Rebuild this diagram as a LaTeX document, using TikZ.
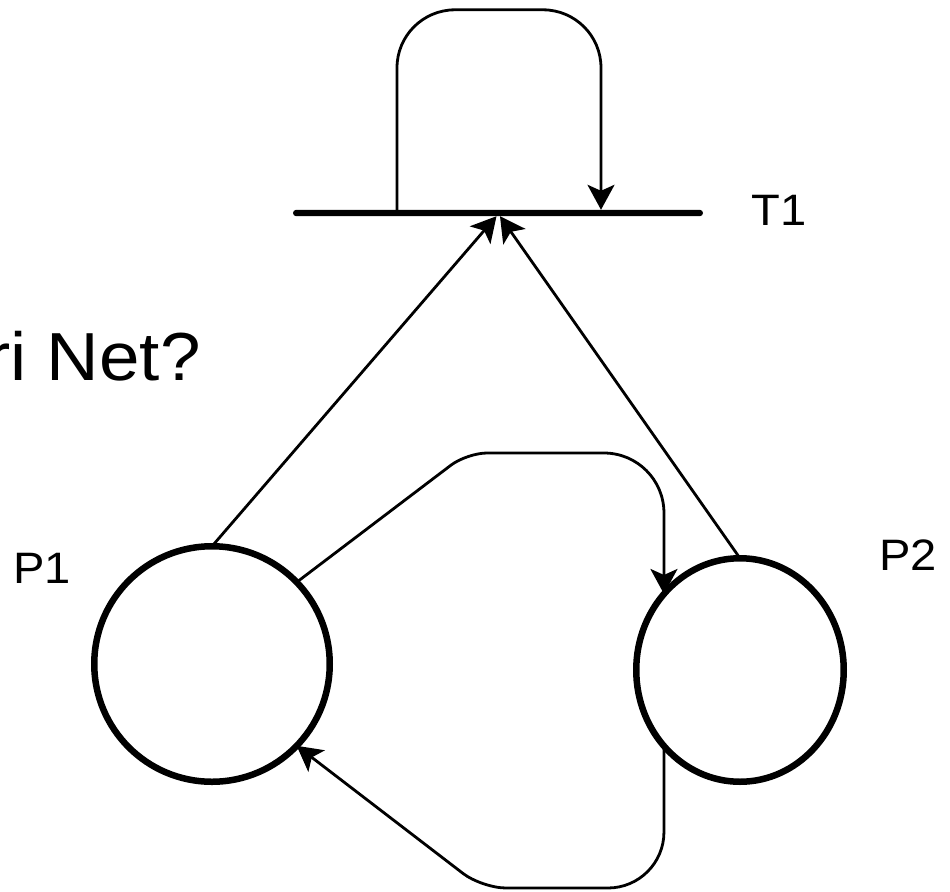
\documentclass[tikz,border=0pt]{standalone}
\usepackage{fontspec}
\setmainfont{Liberation Sans}
\usetikzlibrary{arrows.meta,shapes.geometric}
% slightly wide lettering
\newcommand{\widetext}[1]{\scalebox{1.07}[1]{#1}}
\begin{document}
\begin{tikzpicture}[x=0.5pt,y=-0.5pt,
  place/.style={draw, line width=3.25pt, inner sep=0pt, outer sep=0pt},
  arc/.style={line width=1.4pt, -{Stealth[length=12.5pt,width=13.5pt,inset=3pt]}},
  lbl/.style={anchor=base west, inner sep=0pt, font=\fontsize{22}{24}\selectfont},
  ]
\useasboundingbox (0,0) rectangle (950,891);

% places and the transition bar
\node[place, circle, minimum size=117.75pt] (P1) at (212,664) {};
\node[place, ellipse, minimum width=103.75pt, minimum height=111.75pt] (P2) at (740,670) {};
\node[fill, rectangle, rounded corners=1.6pt, minimum width=205pt, minimum height=3.2pt,
      inner sep=0pt, outer sep=0pt] (T1) at (498,213) {};

% labels
\node[lbl] (lT1) at (751,225) {\widetext{T1}};
\node[lbl] (lP1) at (13,583) {\widetext{P1}};
\node[lbl] (lP2) at (879,570) {\widetext{P2}};
\node[anchor=base west, inner sep=0pt, font=\fontsize{34}{40}\selectfont] (title)
  at (-14,380) {\widetext{ri Net?}};

% arcs into T1
\draw[arc] (P1.north) -- ([xshift=-0.75pt]T1.south);
\draw[arc] (P2.north) -- ([xshift=1pt]T1.south);

% self loop on T1
\draw[arc, rounded corners=29pt] ([xshift=-50.5pt]T1.north) -- ++(0,-200) -- ++(204,0)
  -- ([xshift=51.5pt]T1.north);

% P1 -> P2 over the top
\coordinate (topy) at (0,453);
\draw[arc] (P1.44) [rounded corners=10pt] -- (467,453) [rounded corners=30pt]
  -- (P2.135 |- topy) [sharp corners] -- (P2.135);

% P2 -> P1 along the bottom
\coordinate (boty) at (0,888);
\draw[arc] (P2.225) [rounded corners=28pt] -- (P2.225 |- boty) [rounded corners=12pt]
  -- (482,888) [sharp corners] -- (P1.-44);
\end{tikzpicture}
\end{document}
